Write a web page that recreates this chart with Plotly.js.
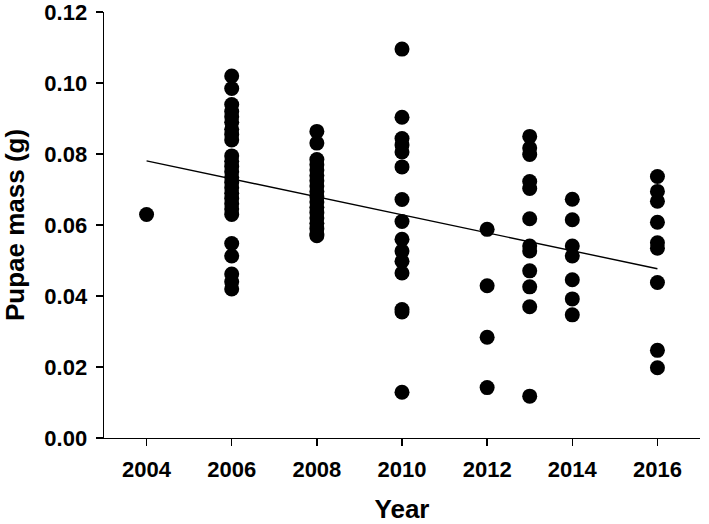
<!DOCTYPE html>
<html>
<head>
<meta charset="utf-8">
<script src="https://cdn.plot.ly/plotly-3.0.1.min.js"></script>
<style>html,body{margin:0;padding:0;background:#fff;}#chart{width:709px;height:524px;}</style>
</head>
<body>
<div id="chart"></div>
<script>
// Pupae mass (g) observations per year
const years = [2004, 2006, 2008, 2010, 2012, 2013, 2014, 2016];
const mass2004 = [0.063];
const mass2006 = [0.102, 0.0985, 0.094, 0.092, 0.0905, 0.089, 0.087, 0.0855, 0.084, 0.0795, 0.078, 0.0765, 0.075, 0.0735, 0.072, 0.0705, 0.069, 0.0675, 0.066, 0.0645, 0.063, 0.0548, 0.0513, 0.0462, 0.044, 0.042];
const mass2008 = [0.0864, 0.0831, 0.0785, 0.077, 0.0755, 0.074, 0.0725, 0.071, 0.0695, 0.068, 0.0665, 0.065, 0.0635, 0.062, 0.0605, 0.059, 0.0575, 0.057];
const mass2010 = [0.1096, 0.0904, 0.0844, 0.0826, 0.0806, 0.0764, 0.0672, 0.061, 0.056, 0.0527, 0.0498, 0.0465, 0.0362, 0.0355, 0.0129];
const mass2012 = [0.0588, 0.0429, 0.0284, 0.0142];
const mass2013 = [0.085, 0.0817, 0.0799, 0.0723, 0.0703, 0.0618, 0.0541, 0.0527, 0.0471, 0.0426, 0.037, 0.0118];
const mass2014 = [0.0673, 0.0615, 0.0541, 0.0513, 0.0446, 0.0392, 0.0347];
const mass2016 = [0.0737, 0.0695, 0.0667, 0.0608, 0.055, 0.0535, 0.0438, 0.0247, 0.0198];
// Regression line end points
const trendX = [2004, 2016];
const trendY = [0.0781, 0.0477];
const xTicks = [2004, 2006, 2008, 2010, 2012, 2014, 2016];
const yTicks = [0, 0.02, 0.04, 0.06, 0.08, 0.10, 0.12];
const yTickText = ['0.00', '0.02', '0.04', '0.06', '0.08', '0.10', '0.12'];

const groups = [mass2004, mass2006, mass2008, mass2010, mass2012, mass2013, mass2014, mass2016];
const px = [], py = [];
groups.forEach((g, i) => g.forEach(v => { px.push(years[i]); py.push(v); }));

const fontFam = 'Liberation Sans, Arial, sans-serif';
const data = [
  {x: px, y: py, type: 'scatter', mode: 'markers',
   marker: {size: 15, color: '#000', line: {width: 0}}, hoverinfo: 'skip', showlegend: false},
  {x: trendX, y: trendY, type: 'scatter', mode: 'lines',
   line: {color: '#000', width: 1.4}, hoverinfo: 'skip', showlegend: false}
];
const layout = {
  width: 709, height: 524,
  margin: {l: 104, r: 9, t: 12, b: 86},
  paper_bgcolor: '#fff', plot_bgcolor: '#fff',
  showlegend: false,
  xaxis: {
    range: [2003, 2017], tickvals: xTicks, ticktext: xTicks.map(String),
    showline: true, linecolor: '#000', linewidth: 1.4,
    ticks: 'outside', ticklen: 7, tickwidth: 1.4, tickcolor: '#000',
    ticklabelstandoff: 4,
    showgrid: false, zeroline: false,
    tickfont: {family: fontFam, size: 22, color: '#000', weight: 'bold'},
    title: {text: 'Year', font: {family: fontFam, size: 26, color: '#000', weight: 'bold'}, standoff: 33},
    automargin: false
  },
  yaxis: {
    range: [0, 0.12005], tickvals: yTicks, ticktext: yTickText,
    showline: true, linecolor: '#000', linewidth: 1.4,
    ticks: 'outside', ticklen: 7, tickwidth: 1.4, tickcolor: '#000',
    ticklabelstandoff: 4, ticklabeloverflow: 'allow',
    showgrid: false, zeroline: false,
    tickfont: {family: fontFam, size: 22, color: '#000', weight: 'bold'},
    title: {text: 'Pupae mass (g)', font: {family: fontFam, size: 26, color: '#000', weight: 'bold'}, standoff: 15},
    automargin: false
  }
};
Plotly.newPlot('chart', data, layout, {displayModeBar: false, staticPlot: true});
</script>
</body>
</html>
